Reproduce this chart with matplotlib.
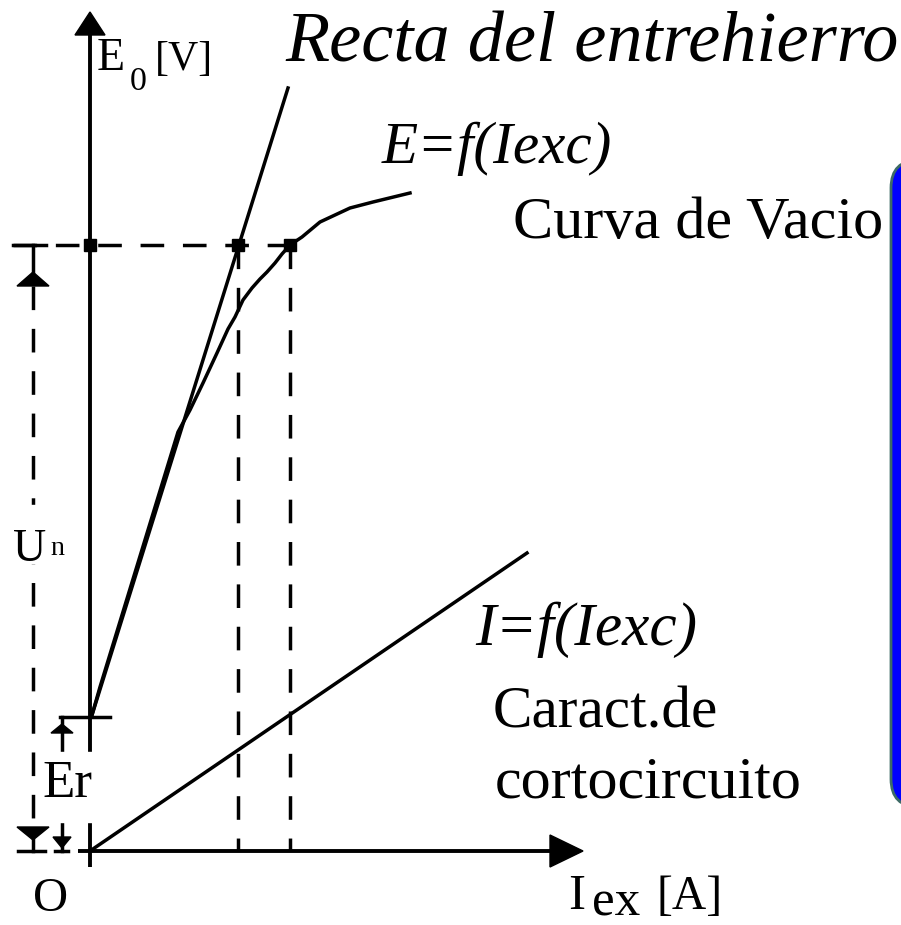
import matplotlib
matplotlib.use("Agg")
import matplotlib.pyplot as plt
from matplotlib.patches import Polygon, Rectangle, FancyBboxPatch

plt.rcParams['lines.scale_dashes'] = False

# ---- data (diagram units: Iexc to the right, E upward, origin O) ----
recta_iex = [2, 198]
recta_e = [136, 763]

vacio_iex = [2, 10, 88, 100, 113, 127, 138, 145, 153, 162, 170, 177, 185, 192,
             200, 212, 230, 260, 283, 320]
vacio_e = [136, 164, 419, 441, 468, 498, 522, 534, 551, 563, 572, 579, 588, 597,
           606, 614, 629, 643, 649, 658]

cc_iex = [0, 437]
cc_i = [0, 298]

E_nominal = 606
Er_value = 134
op_iex = [0, 148, 200]

# ---- figure ----
fig = plt.figure(figsize=(9.01, 9.25), dpi=100)
ax = fig.add_axes([0, 0, 1, 1])
ax.set_xlim(-90, 811)
ax.set_ylim(-74, 851)
ax.axis('off')

LW = 2.5
DASH = (0, (17, 13.5))
K = 'black'

# axes
ax.plot([0, 0], [-16, 816], color=K, lw=2.8, zorder=2, solid_capstyle='butt')
ax.plot([-12, 460], [0, 0], color=K, lw=2.8, zorder=2, solid_capstyle='butt')
ax.add_patch(Polygon([[0, 839], [-15, 816], [15, 816]], closed=True, color=K, zorder=2))
ax.add_patch(Polygon([[493, 0], [460, 16], [460, -16]], closed=True, color=K, zorder=2))

# curves
ax.plot(recta_iex, recta_e, color=K, lw=LW, zorder=2)
ax.plot(vacio_iex, vacio_e, color=K, lw=LW, zorder=2)
ax.plot(cc_iex, cc_i, color=K, lw=LW, zorder=2)

# dashed construction lines
ax.plot([-77, op_iex[2]], [E_nominal, E_nominal], color=K, lw=LW, linestyle=DASH, zorder=2)
for xv in op_iex[1:]:
    ax.plot([xv, xv], [E_nominal, 0], color=K, lw=LW, linestyle=DASH, zorder=2)
ax.plot(op_iex, [E_nominal] * len(op_iex), 's', color=K, markersize=9, zorder=3)

# Un dimension
ax.plot([-77, -44], [E_nominal, E_nominal], color=K, lw=LW, zorder=2)
ax.plot([-57, -57], [E_nominal, 579], color=K, lw=LW, zorder=2)
ax.plot([-57, -57], [565, 24], color=K, lw=LW, linestyle=DASH, zorder=2)
ax.plot([-57, -57], [11, 0], color=K, lw=LW, zorder=2)
ax.plot([-72, -45], [0, 0], color=K, lw=LW, zorder=2)
ax.add_patch(Polygon([[-57, 579], [-73, 565], [-41, 565]], closed=True, color=K, zorder=2))
ax.add_patch(Polygon([[-57, 11], [-73, 24], [-41, 24]], closed=True, color=K, zorder=2))

# Er dimension
ax.plot([-30, 20], [Er_value, Er_value], color=K, lw=LW, zorder=2)
ax.plot([-28, -28], [Er_value, 0], color=K, lw=LW, zorder=2)
ax.plot([-35, -22], [0, 0], color=K, lw=LW, zorder=2)
ax.add_patch(Polygon([[-28, 127], [-39, 118], [-17, 118]], closed=True, color=K, zorder=2))
ax.add_patch(Polygon([[-28, 3], [-37, 14], [-19, 14]], closed=True, color=K, zorder=2))

# white knock-outs behind labels
ax.add_patch(Rectangle((-50, 29), 55, 70, color='white', zorder=3))
ax.add_patch(Rectangle((-80, 288), 70, 58, color='white', zorder=3))

# blue box at right edge
ax.add_patch(FancyBboxPatch((801, 44), 120, 647,
                            boxstyle="round,pad=0,rounding_size=28",
                            facecolor='#0000ff', edgecolor='#3d6b66', lw=2, zorder=2))

fig.canvas.draw()
renderer = fig.canvas.get_renderer()


def put(s, x0, x1, yb, style='normal'):
    ref = 40
    t = ax.text(x0, yb, s, fontsize=ref, family='Liberation Serif', style=style,
                ha='left', va='baseline', color=K, zorder=5)
    bb = t.get_window_extent(renderer)
    wt = ax.transData.transform((x1, 0))[0] - ax.transData.transform((x0, 0))[0]
    t.set_fontsize(ref * wt / bb.width)
    return t


put("Recta del entrehierro", 195, 807, 789, 'italic')
put("E=f(Iexc)", 292, 522, 688, 'italic')
put("Curva de Vacio", 423, 793, 613)
put("I=f(Iexc)", 385, 607, 206, 'italic')
put("Caract.de", 403, 628, 124)
put("cortocircuito", 405, 712, 54)
put("O", -57, -22, -60)
put("E", 7, 35, 781)
put("0", 40, 57, 761)
put("[V]", 65, 123, 781)
put("I", 478, 495, -58)
put("ex", 502, 550, -64)
put("[A]", 567, 633, -58)
put("Er", -48, 2, 54)
put("U", -77, -44, 290)
put("n", -40, -26, 296)

fig.savefig("out.png", dpi=100)
